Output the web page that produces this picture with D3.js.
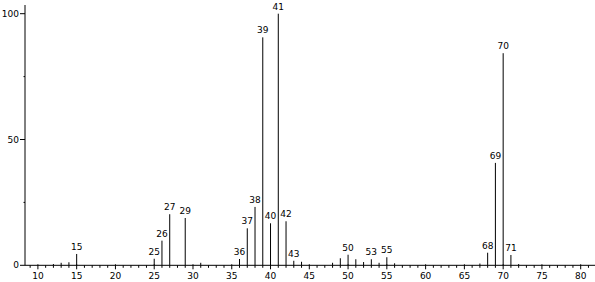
<!DOCTYPE html>
<html>
<head>
<meta charset="utf-8">
<script src="https://cdn.jsdelivr.net/npm/d3@7"></script>
<style>
  body { margin: 0; background: #fff; }
  svg { display: block; }
  text { font-family: "DejaVu Sans", sans-serif; font-size: 9px; fill: #000; }
</style>
</head>
<body>
<div id="container"></div>
<script>
// m/z values and relative intensities
const mz        = [12, 13, 14, 15, 25, 26, 27, 29, 31, 36, 37, 38, 39, 40, 41, 42, 43, 44, 48, 49, 50, 51, 52, 53, 54, 55, 56, 67, 68, 69, 70, 71, 72];
const intensity = [0.5, 1.0, 1.2, 4.5, 2.6, 9.8, 20.3, 18.8, 1.0, 2.5, 14.7, 23.2, 90.6, 16.7, 100, 17.5, 1.8, 1.4, 1.0, 2.8, 4.2, 2.4, 1.3, 2.4, 1.0, 3.2, 0.8, 0.7, 5.0, 40.7, 84.3, 4.1, 0.5];
const labelled  = [15, 25, 26, 27, 29, 36, 37, 38, 39, 40, 41, 42, 43, 50, 53, 55, 68, 69, 70, 71];
const xTicks    = [10, 15, 20, 25, 30, 35, 40, 45, 50, 55, 60, 65, 70, 75, 80];
const yTicks    = [0, 50, 100];
const yMinor    = [25, 75];

const width = 595, height = 282;
const axisLeft = 25;

const xScale = d3.scaleLinear().domain([10, 80]).range([37.9, 580.7]);
const yScale = d3.scaleLinear().domain([0, 100]).range([265.3, 13.7]);
const base = yScale(0);

const svg = d3.select('#container')
  .append('svg')
  .attr('width', width)
  .attr('height', height);

// x axis: line, integer ticks, labels every 5
svg.append('line')
  .attr('x1', axisLeft).attr('x2', width)
  .attr('y1', base).attr('y2', base)
  .attr('stroke', '#000');

const intTicks = d3.range(9, 82);
svg.append('g').selectAll('line')
  .data(intTicks)
  .enter().append('line')
  .attr('x1', d => xScale(d)).attr('x2', d => xScale(d))
  .attr('y1', d => d % 5 === 0 ? base - 1 : base)
  .attr('y2', d => d % 5 === 0 ? base + 4 : base + 2.5)
  .attr('stroke', '#000');

svg.append('g').selectAll('text')
  .data(xTicks)
  .enter().append('text')
  .attr('x', d => xScale(d))
  .attr('y', base + 14)
  .attr('text-anchor', 'middle')
  .text(d => d);

// y axis
svg.append('line')
  .attr('x1', axisLeft).attr('x2', axisLeft)
  .attr('y1', 5).attr('y2', base)
  .attr('stroke', '#000');

svg.append('g').selectAll('line')
  .data(yTicks)
  .enter().append('line')
  .attr('x1', axisLeft - 5).attr('x2', axisLeft)
  .attr('y1', d => yScale(d)).attr('y2', d => yScale(d))
  .attr('stroke', '#000');

svg.append('g').selectAll('line')
  .data(yMinor)
  .enter().append('line')
  .attr('x1', axisLeft - 1.5).attr('x2', axisLeft)
  .attr('y1', d => yScale(d)).attr('y2', d => yScale(d))
  .attr('stroke', '#000');

svg.append('g').selectAll('text')
  .data(yTicks)
  .enter().append('text')
  .attr('x', axisLeft - 6)
  .attr('y', d => yScale(d) + 3)
  .attr('text-anchor', 'end')
  .text(d => d);

// peaks
const peaks = mz.map((m, i) => ({ m: m, v: intensity[i] }));

svg.append('g').selectAll('line')
  .data(peaks)
  .enter().append('line')
  .attr('x1', d => xScale(d.m)).attr('x2', d => xScale(d.m))
  .attr('y1', base)
  .attr('y2', d => yScale(d.v))
  .attr('stroke', '#000')
  .attr('stroke-width', 1);

svg.append('g').selectAll('text')
  .data(peaks.filter(d => labelled.includes(d.m)))
  .enter().append('text')
  .attr('x', d => xScale(d.m))
  .attr('y', d => yScale(d.v) - 4)
  .attr('text-anchor', 'middle')
  .text(d => d.m);
</script>
</body>
</html>
